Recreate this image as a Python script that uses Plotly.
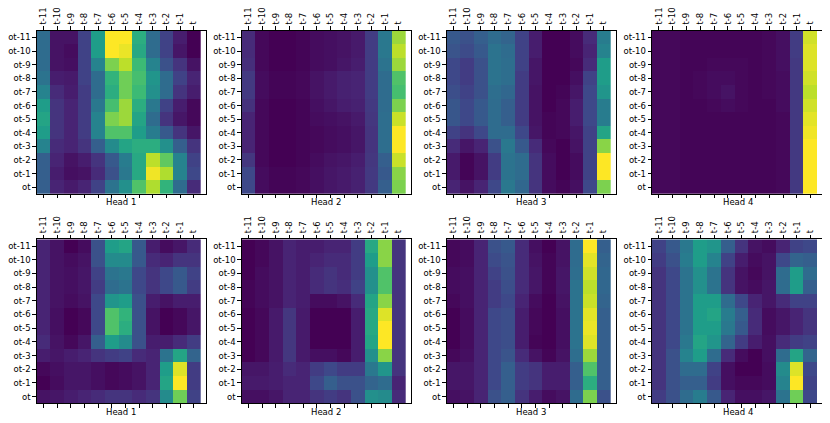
import plotly.graph_objects as go

# column / row labels shared by every panel
cols = ["t-11", "t-10", "t-9", "t-8", "t-7", "t-6", "t-5", "t-4", "t-3", "t-2", "t-1", "t"]
rows = ["ot-11", "ot-10", "ot-9", "ot-8", "ot-7", "ot-6", "ot-5", "ot-4", "ot-3", "ot-2", "ot-1", "ot"]
heads = ["Head 1", "Head 2", "Head 3", "Head 4", "Head 1", "Head 2", "Head 3", "Head 4"]

# attention weights (normalised 0..1 per panel), rows ot-11 .. ot
top_head1 = [
    [0.35, 0.05, 0.05, 0.20, 0.55, 1.00, 1.00, 0.62, 0.35, 0.20, 0.08, 0.00],
    [0.35, 0.05, 0.03, 0.20, 0.55, 1.00, 0.97, 0.60, 0.35, 0.20, 0.06, 0.00],
    [0.35, 0.05, 0.04, 0.20, 0.45, 0.80, 0.90, 0.68, 0.45, 0.25, 0.15, 0.05],
    [0.38, 0.08, 0.07, 0.20, 0.35, 0.65, 0.78, 0.70, 0.52, 0.35, 0.20, 0.10],
    [0.45, 0.12, 0.08, 0.18, 0.35, 0.62, 0.78, 0.68, 0.50, 0.35, 0.15, 0.08],
    [0.55, 0.15, 0.10, 0.18, 0.40, 0.70, 0.85, 0.62, 0.40, 0.20, 0.08, 0.02],
    [0.58, 0.15, 0.10, 0.18, 0.45, 0.80, 0.85, 0.58, 0.35, 0.15, 0.06, 0.02],
    [0.55, 0.15, 0.10, 0.18, 0.45, 0.72, 0.72, 0.55, 0.42, 0.28, 0.15, 0.06],
    [0.45, 0.12, 0.10, 0.15, 0.30, 0.48, 0.58, 0.62, 0.62, 0.50, 0.30, 0.15],
    [0.30, 0.10, 0.05, 0.08, 0.15, 0.28, 0.42, 0.60, 0.90, 0.75, 0.45, 0.20],
    [0.30, 0.08, 0.04, 0.05, 0.12, 0.25, 0.40, 0.60, 0.98, 0.88, 0.45, 0.22],
    [0.30, 0.10, 0.07, 0.10, 0.20, 0.38, 0.50, 0.72, 0.88, 0.65, 0.35, 0.12],
]
top_head2 = [
    [0.12, 0.02, 0.00, 0.00, 0.01, 0.03, 0.04, 0.05, 0.07, 0.18, 0.40, 0.85],
    [0.12, 0.02, 0.00, 0.00, 0.01, 0.03, 0.04, 0.05, 0.07, 0.18, 0.40, 0.90],
    [0.13, 0.02, 0.00, 0.00, 0.01, 0.03, 0.04, 0.06, 0.08, 0.18, 0.38, 0.85],
    [0.17, 0.03, 0.01, 0.01, 0.02, 0.05, 0.07, 0.09, 0.10, 0.18, 0.35, 0.72],
    [0.17, 0.03, 0.01, 0.01, 0.02, 0.05, 0.07, 0.09, 0.10, 0.18, 0.35, 0.70],
    [0.14, 0.02, 0.00, 0.00, 0.01, 0.04, 0.06, 0.08, 0.09, 0.17, 0.35, 0.80],
    [0.10, 0.02, 0.00, 0.00, 0.01, 0.03, 0.04, 0.05, 0.07, 0.16, 0.36, 0.92],
    [0.10, 0.02, 0.00, 0.00, 0.01, 0.02, 0.03, 0.04, 0.06, 0.15, 0.36, 1.00],
    [0.10, 0.02, 0.00, 0.00, 0.01, 0.02, 0.03, 0.04, 0.06, 0.15, 0.36, 1.00],
    [0.16, 0.02, 0.00, 0.00, 0.01, 0.03, 0.05, 0.06, 0.08, 0.16, 0.30, 0.92],
    [0.22, 0.03, 0.01, 0.01, 0.02, 0.04, 0.06, 0.07, 0.09, 0.17, 0.28, 0.82],
    [0.22, 0.03, 0.01, 0.01, 0.02, 0.04, 0.06, 0.07, 0.09, 0.17, 0.30, 0.80],
]
top_head3 = [
    [0.28, 0.25, 0.30, 0.35, 0.32, 0.20, 0.08, 0.00, 0.00, 0.03, 0.12, 0.42],
    [0.26, 0.23, 0.28, 0.38, 0.35, 0.20, 0.08, 0.00, 0.00, 0.03, 0.10, 0.45],
    [0.22, 0.18, 0.25, 0.38, 0.36, 0.20, 0.06, 0.00, 0.00, 0.02, 0.12, 0.55],
    [0.22, 0.18, 0.25, 0.38, 0.36, 0.18, 0.06, 0.00, 0.00, 0.04, 0.20, 0.55],
    [0.24, 0.20, 0.25, 0.36, 0.33, 0.18, 0.05, 0.00, 0.01, 0.06, 0.22, 0.52],
    [0.27, 0.22, 0.28, 0.35, 0.30, 0.18, 0.05, 0.00, 0.02, 0.08, 0.22, 0.42],
    [0.27, 0.22, 0.28, 0.35, 0.30, 0.18, 0.05, 0.01, 0.02, 0.08, 0.22, 0.42],
    [0.20, 0.15, 0.22, 0.35, 0.35, 0.22, 0.06, 0.01, 0.02, 0.06, 0.20, 0.58],
    [0.12, 0.06, 0.10, 0.25, 0.40, 0.28, 0.12, 0.02, 0.00, 0.05, 0.20, 0.82],
    [0.07, 0.01, 0.05, 0.18, 0.38, 0.35, 0.15, 0.03, 0.00, 0.03, 0.20, 1.00],
    [0.07, 0.01, 0.05, 0.18, 0.38, 0.35, 0.15, 0.03, 0.00, 0.03, 0.20, 1.00],
    [0.10, 0.05, 0.10, 0.22, 0.40, 0.33, 0.15, 0.03, 0.01, 0.04, 0.22, 0.80],
]
top_head4 = [
    [0.02, 0.02, 0.01, 0.01, 0.01, 0.01, 0.01, 0.01, 0.02, 0.04, 0.18, 0.93],
    [0.02, 0.02, 0.01, 0.01, 0.01, 0.01, 0.01, 0.01, 0.02, 0.04, 0.18, 0.95],
    [0.02, 0.02, 0.01, 0.01, 0.02, 0.02, 0.02, 0.01, 0.02, 0.04, 0.17, 0.95],
    [0.02, 0.02, 0.01, 0.02, 0.03, 0.03, 0.02, 0.01, 0.02, 0.03, 0.17, 0.93],
    [0.02, 0.02, 0.01, 0.02, 0.03, 0.05, 0.02, 0.01, 0.02, 0.03, 0.17, 0.90],
    [0.02, 0.02, 0.01, 0.01, 0.02, 0.03, 0.02, 0.01, 0.01, 0.03, 0.17, 0.93],
    [0.02, 0.02, 0.01, 0.01, 0.01, 0.01, 0.01, 0.01, 0.01, 0.02, 0.17, 0.96],
    [0.02, 0.02, 0.01, 0.01, 0.01, 0.01, 0.01, 0.01, 0.01, 0.02, 0.17, 0.98],
    [0.02, 0.02, 0.01, 0.01, 0.01, 0.01, 0.01, 0.01, 0.01, 0.02, 0.17, 1.00],
    [0.02, 0.02, 0.01, 0.01, 0.01, 0.01, 0.01, 0.01, 0.01, 0.02, 0.17, 1.00],
    [0.02, 0.02, 0.01, 0.01, 0.01, 0.01, 0.01, 0.01, 0.01, 0.02, 0.17, 1.00],
    [0.02, 0.02, 0.01, 0.01, 0.01, 0.01, 0.01, 0.01, 0.01, 0.02, 0.17, 1.00],
]
bottom_head1 = [
    [0.10, 0.05, 0.00, 0.03, 0.25, 0.55, 0.58, 0.28, 0.08, 0.03, 0.06, 0.12],
    [0.10, 0.05, 0.03, 0.05, 0.25, 0.48, 0.48, 0.28, 0.12, 0.10, 0.15, 0.15],
    [0.10, 0.05, 0.04, 0.06, 0.20, 0.38, 0.40, 0.22, 0.15, 0.22, 0.28, 0.20],
    [0.10, 0.05, 0.04, 0.06, 0.18, 0.35, 0.38, 0.22, 0.15, 0.22, 0.28, 0.18],
    [0.10, 0.05, 0.03, 0.05, 0.22, 0.52, 0.55, 0.25, 0.08, 0.05, 0.08, 0.08],
    [0.10, 0.04, 0.00, 0.02, 0.22, 0.72, 0.65, 0.25, 0.05, 0.00, 0.02, 0.06],
    [0.10, 0.04, 0.00, 0.02, 0.22, 0.72, 0.62, 0.25, 0.05, 0.00, 0.02, 0.06],
    [0.12, 0.05, 0.02, 0.06, 0.30, 0.55, 0.48, 0.25, 0.08, 0.08, 0.12, 0.18],
    [0.08, 0.06, 0.08, 0.10, 0.15, 0.18, 0.20, 0.12, 0.10, 0.38, 0.58, 0.32],
    [0.02, 0.04, 0.06, 0.06, 0.04, 0.02, 0.03, 0.05, 0.10, 0.55, 0.95, 0.18],
    [0.00, 0.03, 0.06, 0.06, 0.04, 0.02, 0.03, 0.05, 0.10, 0.58, 1.00, 0.18],
    [0.05, 0.06, 0.08, 0.10, 0.12, 0.15, 0.15, 0.12, 0.15, 0.48, 0.78, 0.20],
]
bottom_head2 = [
    [0.00, 0.02, 0.05, 0.10, 0.08, 0.08, 0.10, 0.10, 0.18, 0.60, 0.82, 0.15],
    [0.00, 0.02, 0.05, 0.10, 0.08, 0.10, 0.12, 0.12, 0.18, 0.55, 0.82, 0.15],
    [0.00, 0.03, 0.05, 0.10, 0.08, 0.12, 0.15, 0.12, 0.18, 0.50, 0.72, 0.15],
    [0.01, 0.03, 0.05, 0.10, 0.08, 0.12, 0.15, 0.13, 0.20, 0.50, 0.72, 0.15],
    [0.01, 0.03, 0.05, 0.10, 0.08, 0.03, 0.03, 0.05, 0.12, 0.58, 0.82, 0.15],
    [0.00, 0.02, 0.07, 0.16, 0.07, 0.00, 0.00, 0.00, 0.08, 0.60, 0.95, 0.15],
    [0.00, 0.02, 0.07, 0.16, 0.07, 0.00, 0.00, 0.00, 0.08, 0.60, 1.00, 0.15],
    [0.00, 0.02, 0.07, 0.16, 0.07, 0.00, 0.00, 0.00, 0.08, 0.58, 1.00, 0.15],
    [0.00, 0.02, 0.07, 0.16, 0.07, 0.04, 0.04, 0.02, 0.08, 0.50, 0.82, 0.15],
    [0.06, 0.06, 0.08, 0.12, 0.10, 0.18, 0.22, 0.18, 0.18, 0.40, 0.52, 0.15],
    [0.07, 0.07, 0.08, 0.10, 0.10, 0.22, 0.30, 0.25, 0.25, 0.32, 0.35, 0.10],
    [0.04, 0.04, 0.06, 0.10, 0.10, 0.15, 0.18, 0.15, 0.25, 0.50, 0.48, 0.12],
]
bottom_head3 = [
    [0.02, 0.03, 0.10, 0.25, 0.28, 0.12, 0.04, 0.00, 0.05, 0.35, 1.00, 0.30],
    [0.02, 0.03, 0.10, 0.23, 0.26, 0.12, 0.05, 0.01, 0.05, 0.35, 0.96, 0.32],
    [0.03, 0.04, 0.10, 0.20, 0.25, 0.12, 0.06, 0.01, 0.06, 0.36, 0.93, 0.33],
    [0.03, 0.04, 0.10, 0.18, 0.24, 0.12, 0.06, 0.01, 0.06, 0.38, 0.90, 0.33],
    [0.02, 0.04, 0.10, 0.18, 0.22, 0.10, 0.03, 0.00, 0.05, 0.38, 0.92, 0.32],
    [0.00, 0.03, 0.10, 0.22, 0.24, 0.08, 0.02, 0.00, 0.04, 0.38, 0.96, 0.30],
    [0.00, 0.03, 0.10, 0.22, 0.24, 0.08, 0.02, 0.00, 0.04, 0.38, 0.97, 0.30],
    [0.00, 0.03, 0.10, 0.22, 0.24, 0.08, 0.01, 0.00, 0.04, 0.38, 0.95, 0.30],
    [0.02, 0.04, 0.10, 0.22, 0.26, 0.12, 0.05, 0.01, 0.05, 0.36, 0.85, 0.30],
    [0.06, 0.06, 0.10, 0.22, 0.30, 0.18, 0.15, 0.08, 0.08, 0.30, 0.72, 0.30],
    [0.06, 0.06, 0.10, 0.22, 0.30, 0.18, 0.15, 0.08, 0.08, 0.30, 0.62, 0.30],
    [0.04, 0.05, 0.10, 0.25, 0.30, 0.15, 0.08, 0.03, 0.05, 0.35, 0.80, 0.25],
]
bottom_head4 = [
    [0.20, 0.28, 0.40, 0.55, 0.52, 0.30, 0.15, 0.05, 0.03, 0.10, 0.20, 0.22],
    [0.18, 0.25, 0.42, 0.55, 0.45, 0.20, 0.08, 0.03, 0.05, 0.22, 0.32, 0.30],
    [0.15, 0.22, 0.38, 0.50, 0.38, 0.15, 0.05, 0.02, 0.05, 0.35, 0.55, 0.35],
    [0.15, 0.22, 0.38, 0.50, 0.38, 0.15, 0.05, 0.03, 0.06, 0.35, 0.55, 0.30],
    [0.15, 0.22, 0.38, 0.55, 0.55, 0.35, 0.22, 0.10, 0.06, 0.12, 0.20, 0.20],
    [0.15, 0.22, 0.38, 0.55, 0.58, 0.42, 0.30, 0.12, 0.03, 0.06, 0.10, 0.15],
    [0.15, 0.22, 0.38, 0.55, 0.55, 0.40, 0.28, 0.12, 0.03, 0.06, 0.10, 0.15],
    [0.15, 0.22, 0.40, 0.58, 0.52, 0.32, 0.18, 0.08, 0.04, 0.12, 0.18, 0.20],
    [0.15, 0.25, 0.45, 0.55, 0.35, 0.12, 0.03, 0.00, 0.04, 0.35, 0.58, 0.32],
    [0.15, 0.25, 0.35, 0.35, 0.20, 0.04, 0.00, 0.00, 0.03, 0.48, 0.95, 0.22],
    [0.15, 0.25, 0.30, 0.30, 0.18, 0.04, 0.02, 0.02, 0.03, 0.45, 1.00, 0.20],
    [0.18, 0.25, 0.35, 0.42, 0.28, 0.10, 0.04, 0.04, 0.06, 0.38, 0.78, 0.22],
]

panels = [top_head1, top_head2, top_head3, top_head4,
          bottom_head1, bottom_head2, bottom_head3, bottom_head4]

# the page body has an 8px margin, so the figure is 8px smaller and
# every reference pixel position is shifted by that offset
PAD = 8
W, H = 830 - PAD, 423 - PAD
x_left = [36.7, 241.7, 446.7, 652.0]
x_right = [206.0, 411.0, 616.0, 823.0]
y_top = [30.7, 239.3]
y_bot = [194.0, 403.4]
title_y = [202.5, 411.5]


def px(v, size):
    return (v - PAD) / size


font = dict(family="DejaVu Sans", size=8.5, color="black")
fig = go.Figure()
layout = {}

for i, z in enumerate(panels):
    r, c = divmod(i, 4)
    n = "" if i == 0 else str(i + 1)
    fig.add_trace(go.Heatmap(
        z=z, x=list(range(len(cols))), y=list(range(len(rows))),
        colorscale="Viridis", zmin=0, zmax=1, showscale=False,
        xaxis="x" + n, yaxis="y" + n,
    ))
    layout["xaxis" + n] = dict(
        domain=[px(x_left[c], W), px(x_right[c], W)],
        anchor="y" + n, side="top",
        range=[-0.5, len(cols) - 0.1],
        tickmode="array", tickvals=list(range(len(cols))), ticktext=cols,
        tickangle=-90, ticks="outside", ticklen=3.5, tickwidth=0.8, tickcolor="black",
        showline=True, linecolor="black", linewidth=0.8, mirror="ticks",
        showgrid=False, zeroline=False, tickfont=font,
    )
    layout["yaxis" + n] = dict(
        domain=[1 - px(y_bot[r], H), 1 - px(y_top[r], H)],
        anchor="x" + n,
        range=[len(rows) - 0.5, -0.5],
        tickmode="array", tickvals=list(range(len(rows))), ticktext=rows,
        ticks="outside", ticklen=3.5, tickwidth=0.8, tickcolor="black",
        showline=True, linecolor="black", linewidth=0.8, mirror=True,
        showgrid=False, zeroline=False, tickfont=font,
    )
    fig.add_annotation(
        text=heads[i], xref="paper", yref="paper",
        x=px((x_left[c] + x_right[c]) / 2, W), y=1 - px(title_y[r], H),
        xanchor="center", yanchor="middle", showarrow=False, font=font,
    )

fig.update_layout(
    width=W, height=H,
    margin=dict(l=0, r=0, t=0, b=0),
    paper_bgcolor="white", plot_bgcolor="white",
    font=font,
    **layout,
)

fig.write_html("out.html")
